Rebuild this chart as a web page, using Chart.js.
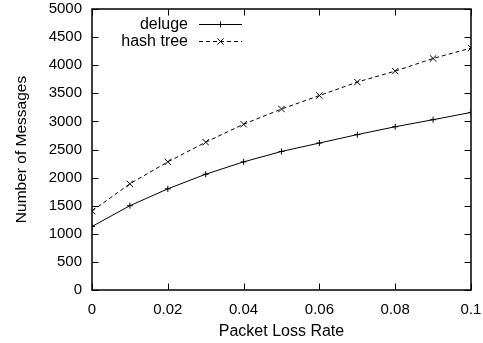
<!DOCTYPE html>
<html>
<head>
<meta charset="utf-8">
<script src="https://cdn.jsdelivr.net/npm/chart.js@4/dist/chart.umd.min.js"></script>
<style>
html,body{margin:0;padding:0;background:#fff;}
#wrap{width:483px;height:343px;position:relative;}
</style>
</head>
<body>
<div id="wrap"><canvas id="c" width="483" height="343"></canvas></div>
<script>
const lossRates = [0, 0.01, 0.02, 0.03, 0.04, 0.05, 0.06, 0.07, 0.08, 0.09, 0.1];
const delugeMsgs = [1130, 1500, 1800, 2060, 2280, 2465, 2615, 2765, 2905, 3030, 3160];
const hashTreeMsgs = [1405, 1890, 2280, 2630, 2950, 3220, 3460, 3700, 3895, 4120, 4305];
const xTickLabels = ['0', '0.02', '0.04', '0.06', '0.08', '0.1'];
const yTickLabels = ['0','500','1000','1500','2000','2500','3000','3500','4000','4500','5000'];
const seriesNames = ['deluge', 'hash tree'];

const FONT = "'Liberation Sans', Arial, Helvetica, sans-serif";

const frameTicks = {
  id: 'frameTicks',
  afterDatasetsDraw(chart) {
    const {ctx, chartArea: a, scales: {x, y}} = chart;
    ctx.save();
    ctx.strokeStyle = '#000';
    ctx.lineWidth = 1;
    ctx.beginPath();
    const L = 6.5;
    x.ticks.forEach(t => {
      const px = Math.round(x.getPixelForValue(t.value)) + 0.5;
      ctx.moveTo(px, a.bottom); ctx.lineTo(px, a.bottom - L);
      ctx.moveTo(px, a.top); ctx.lineTo(px, a.top + L);
    });
    y.ticks.forEach(t => {
      const py = Math.round(y.getPixelForValue(t.value)) + 0.5;
      ctx.moveTo(a.left, py); ctx.lineTo(a.left + L, py);
      ctx.moveTo(a.right, py); ctx.lineTo(a.right - L, py);
    });
    ctx.stroke();
    ctx.lineWidth = 1.5;
    ctx.strokeRect(a.left, a.top, a.right - a.left, a.bottom - a.top);
    // legend
    ctx.font = '16px ' + FONT;
    ctx.fillStyle = '#000';
    ctx.textAlign = 'right';
    ctx.textBaseline = 'middle';
    chart.data.datasets.forEach((ds, i) => {
      const ly = a.top + 15 + i * 17;
      const tx = a.left + 96;
      ctx.fillText(ds.label, tx, ly + 1);
      const x0 = tx + 11, x1 = tx + 54;
      ctx.lineWidth = 1;
      ctx.setLineDash(ds.borderDash || []);
      ctx.beginPath();
      ctx.moveTo(x0, ly + 0.5); ctx.lineTo(x1, ly + 0.5);
      ctx.stroke();
      ctx.setLineDash([]);
      Chart.helpers.drawPoint(ctx, {pointStyle: ds.pointStyle, radius: ds.pointRadius, borderWidth: 1}, (x0 + x1) / 2, ly + 0.5);
    });
    ctx.restore();
  }
};

new Chart(document.getElementById('c'), {
  type: 'line',
  data: {
    labels: lossRates,
    datasets: [
      {
        label: seriesNames[0],
        data: lossRates.map((v, i) => ({x: v, y: delugeMsgs[i]})),
        borderColor: '#000', backgroundColor: '#000',
        borderWidth: 1, pointStyle: 'cross', pointRadius: 3,
        pointBorderWidth: 1, pointBorderColor: '#000', tension: 0, fill: false
      },
      {
        label: seriesNames[1],
        data: lossRates.map((v, i) => ({x: v, y: hashTreeMsgs[i]})),
        borderColor: '#000', backgroundColor: '#000',
        borderWidth: 1, borderDash: [4, 3], pointStyle: 'crossRot', pointRadius: 4.5,
        pointBorderWidth: 1, pointBorderColor: '#000', tension: 0, fill: false
      }
    ]
  },
  options: {
    responsive: false,
    animation: false,
    devicePixelRatio: 1,
    layout: {padding: 0},
    plugins: {legend: {display: false}, tooltip: {enabled: false}},
    scales: {
      x: {
        type: 'linear', min: 0, max: 0.1,
        grid: {display: false, drawTicks: false},
        border: {display: false},
        ticks: {
          stepSize: 0.02, padding: 11, color: '#000', maxRotation: 0,
          font: {family: FONT, size: 15},
          callback: (v, i) => xTickLabels[i]
        },
        title: {display: true, text: 'Packet Loss Rate', color: '#000',
          font: {family: FONT, size: 16}, padding: {top: 0, bottom: 2}},
        afterFit: s => { s.height = 53; s.paddingRight = 12; s.paddingLeft = 0; }
      },
      y: {
        min: 0, max: 5000,
        grid: {display: false, drawTicks: false},
        border: {display: false},
        ticks: {
          stepSize: 500, padding: 10, color: '#000',
          font: {family: FONT, size: 15},
          callback: (v, i) => yTickLabels[i]
        },
        title: {display: true, text: 'Number of Messages', color: '#000',
          font: {family: FONT, size: 15.5}, padding: {top: 12, bottom: 0}},
        afterFit: s => { s.width = 92; s.paddingTop = 9; s.paddingBottom = 0; }
      }
    }
  },
  plugins: [frameTicks]
});
</script>
</body>
</html>
